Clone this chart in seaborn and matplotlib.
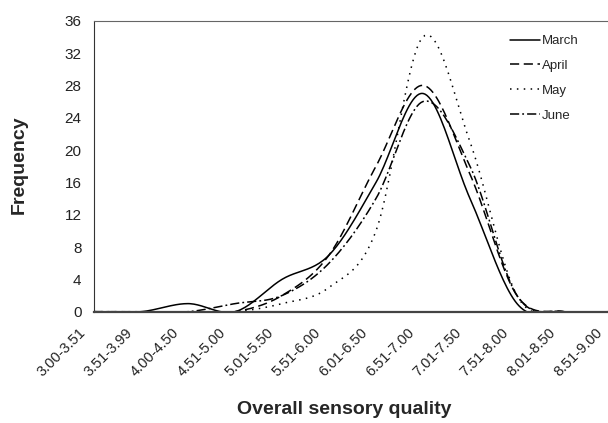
import numpy as np
import pandas as pd
import matplotlib
matplotlib.use("Agg")
import matplotlib.pyplot as plt
from matplotlib.transforms import ScaledTranslation
import seaborn as sns

categories = ["3.00-3.51", "3.51-3.99", "4.00-4.50", "4.51-5.00", "5.01-5.50",
              "5.51-6.00", "6.01-6.50", "6.51-7.00", "7.01-7.50", "7.51-8.00",
              "8.01-8.50", "8.51-9.00"]
march = [0, 0, 1, 0, 4, 7, 16, 27, 14, 1, 0, 0]
april = [0, 0, 0, 0, 2, 7, 18, 28, 17, 2, 0, 0]
may = [0, 0, 0, 0, 1, 3, 10, 34, 21, 2, 0, 0]
june = [0, 0, 0, 1, 2, 6, 14, 26, 18, 2, 0, 0]
y_ticks = [0, 4, 8, 12, 16, 20, 24, 28, 32, 36]

series = {"March": march, "April": april, "May": may, "June": june}
dash_styles = {"March": None, "April": (6, 3), "May": (1, 3.5), "June": (6, 2, 1.2, 2)}


def smooth(xs, ys, n=24):
    """Catmull-Rom smoothing (like a spreadsheet 'smoothed line')."""
    p = np.column_stack([xs, ys]).astype(float)
    p = np.vstack([p[0] * 2 - p[1], p, p[-1] * 2 - p[-2]])
    out = []
    t = np.linspace(0, 1, n, endpoint=False)[:, None]
    for i in range(1, len(p) - 2):
        p0, p1, p2, p3 = p[i - 1], p[i], p[i + 1], p[i + 2]
        seg = 0.5 * ((2 * p1) + (-p0 + p2) * t + (2 * p0 - 5 * p1 + 4 * p2 - p3) * t ** 2
                     + (-p0 + 3 * p1 - 3 * p2 + p3) * t ** 3)
        out.append(seg)
    out.append(p[-2][None, :])
    out = np.vstack(out)
    return out[:, 0], out[:, 1]


sns.set_style("white")
plt.rcParams["font.family"] = ["Liberation Sans", "DejaVu Sans"]

fig = plt.figure(figsize=(6.08, 4.23), dpi=100)
ax = fig.add_axes([94 / 608, 1 - 311.7 / 423, 517 / 608, 291 / 423])

xpos = np.arange(len(categories))
for name, vals in series.items():
    sx, sy = smooth(xpos, vals)
    sns.lineplot(x=sx, y=sy, ax=ax, color="black", linewidth=1.1,
                 estimator=None, sort=False, label=name)
    line = ax.lines[-1]
    if dash_styles[name] is not None:
        line.set_dashes(dash_styles[name])

ax.set_xlim(0, 11)
ax.set_ylim(0, 36)
ax.set_yticks(y_ticks)
ax.set_yticklabels([str(v) for v in y_ticks], fontsize=11)
ax.set_xticks(xpos)
ax.set_xticklabels(categories, fontsize=10.5, rotation=45, ha="right", va="top",
                   rotation_mode="anchor")
ax.tick_params(axis="x", direction="in", length=4, width=0.8, pad=10, colors="#222222")
ax.tick_params(axis="y", direction="inout", length=4, width=0.6, pad=7, colors="#222222")
shift = ScaledTranslation(-16 / 100, 0, fig.dpi_scale_trans)
for lab in ax.xaxis.get_majorticklabels():
    lab.set_transform(lab.get_transform() + shift)

for side in ["left", "top", "right"]:
    ax.spines[side].set_color("#333333")
    ax.spines[side].set_linewidth(0.8)
ax.spines["bottom"].set_color("#444444")
ax.spines["bottom"].set_linewidth(1.6)
ax.spines["top"].set_color("#666666")

ax.set_ylabel("Frequency", fontsize=14, fontweight="bold")
ax.yaxis.set_label_coords((28 - 94) / 517, (311.7 - 165) / 291)
ax.set_xlabel("Overall sensory quality", fontsize=14, fontweight="bold", va="top")
ax.xaxis.set_label_coords((344 - 94) / 517, (311.7 - 401) / 291)

handles, labels = ax.get_legend_handles_labels()
leg = ax.legend(handles, labels, loc="upper left",
                bbox_to_anchor=(510 / 608, 1 - 35 / 423),
                bbox_transform=fig.transFigure, frameon=False, fontsize=9.5,
                handlelength=2.3, handletextpad=0.15, labelspacing=0.95,
                borderpad=0, borderaxespad=0)

fig.savefig("out.png", dpi=100)
